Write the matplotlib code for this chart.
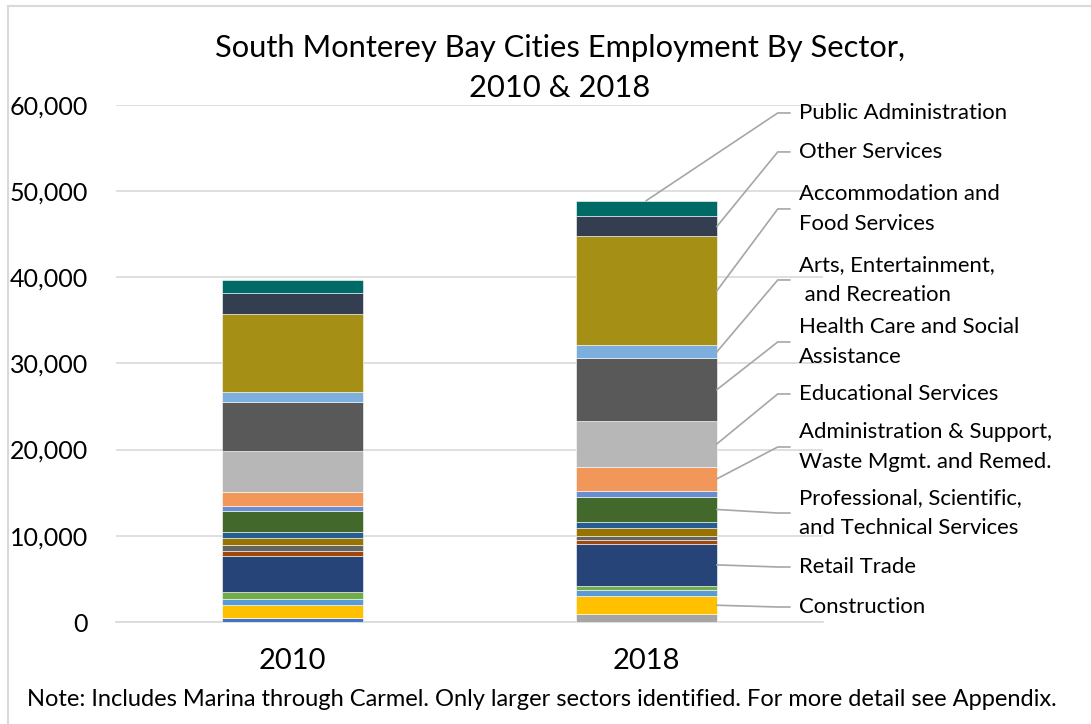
import matplotlib.pyplot as plt
import numpy as np

# Employment by sector (NAICS order, bottom of stack to top)
sectors = ["Agriculture", "Mining", "Utilities", "Construction", "Manufacturing",
           "Wholesale Trade", "Retail Trade", "Transportation and Warehousing",
           "Information", "Finance and Insurance", "Real Estate",
           "Professional, Scientific,\nand Technical Services",
           "Management of Companies",
           "Administration & Support,\nWaste Mgmt. and Remed.",
           "Educational Services", "Health Care and Social\nAssistance",
           "Arts, Entertainment,\n and Recreation",
           "Accommodation and\nFood Services", "Other Services",
           "Public Administration"]
years = ["2010", "2018"]
emp_2010 = [500, 0, 0, 1430, 730, 850, 4130, 580, 700, 850, 700, 2360, 660,
            1550, 4830, 5610, 1160, 9090, 2440, 1550]
emp_2018 = [0, 0, 900, 2090, 770, 390, 4950, 460, 430, 890, 700, 2940, 700,
            2780, 5340, 7230, 1550, 12610, 2320, 1820]

colors = ["#4472C4", "#ED7D31", "#A5A5A5", "#FFC000", "#5B9BD5", "#70AD47",
          "#264478", "#9E480E", "#636363", "#997300", "#255E91", "#43682B",
          "#698ED0", "#F1975A", "#B7B7B7", "#595959", "#7CAFDD", "#A58F14",
          "#333F50", "#006A66"]

# which sectors get a callout, and the height of each callout text
labelled = [3, 6, 11, 13, 14, 15, 16, 17, 18, 19]
label_y = [1740, 6380, 12640, 20300, 26450, 32480, 39670, 47910, 54520, 59040]

plt.rcParams['font.family'] = ['Lato', 'DejaVu Sans']

fig = plt.figure(figsize=(10.91, 7.24), dpi=100)
ax = fig.add_axes([116 / 1091, 102 / 724, 707 / 1091, 517.3 / 724])

x = np.arange(len(years))
width = 0.4
bottom = np.zeros(len(years))
for i, name in enumerate(sectors):
    vals = np.array([emp_2010[i], emp_2018[i]])
    ax.bar(x, vals, width, bottom=bottom, color=colors[i],
           edgecolor="white", linewidth=0.4, zorder=3)
    bottom += vals

ax.set_xlim(-0.5, 1.5)
ax.set_ylim(0, 60000)
ax.set_yticks(np.arange(0, 60001, 10000))
ax.set_yticklabels([f"{v:,}" for v in range(0, 60001, 10000)])
ax.set_xticks(x)
ax.set_xticklabels(years)
ax.tick_params(axis="both", length=0, colors="#000000")
ax.tick_params(axis="y", pad=20, labelsize=18)
ax.tick_params(axis="x", pad=19, labelsize=21)
ax.grid(axis="y", color="#D9D9D9", linewidth=1.2, zorder=0)
for s in ["top", "right", "left"]:
    ax.spines[s].set_visible(False)
ax.spines["bottom"].set_color("#D9D9D9")
ax.spines["bottom"].set_linewidth(1.2)

# leader lines from the 2018 bar to the labels on the right
cum = np.cumsum(emp_2018)
elbow_x, end_x, text_x = 1.372, 1.406, 1.431
for k, idx in enumerate(labelled):
    top = cum[idx]
    mid = top - emp_2018[idx] / 2
    if idx == len(sectors) - 1:
        ax_pt = (1.0, top)
    else:
        ax_pt = (1 + width / 2, mid)
    ax.plot([ax_pt[0], elbow_x, end_x], [ax_pt[1], label_y[k], label_y[k]],
            color="#A6A6A6", linewidth=1.2, clip_on=False, zorder=4)
    ax.text(text_x, label_y[k], sectors[idx], fontsize=15.9, va="center",
            ha="left", linespacing=1.6, clip_on=False)

fig.text(0.513, 1 - 68 / 724, "South Monterey Bay Cities Employment By Sector,\n2010 & 2018",
         ha="center", va="center", fontsize=22.2, linespacing=1.55)
fig.text(27 / 1091, 1 - 700 / 724,
         "Note: Includes Marina through Carmel. Only larger sectors identified. For more detail see Appendix.",
         ha="left", va="center", fontsize=17)

# chart frame
fig.add_artist(plt.Line2D([8 / 1091, 1], [1 - 5.5 / 724] * 2, color="#D9D9D9", linewidth=1.5))
fig.add_artist(plt.Line2D([8 / 1091] * 2, [0, 1 - 5.5 / 724], color="#D9D9D9", linewidth=1.5))

fig.savefig("out.png", dpi=100)
